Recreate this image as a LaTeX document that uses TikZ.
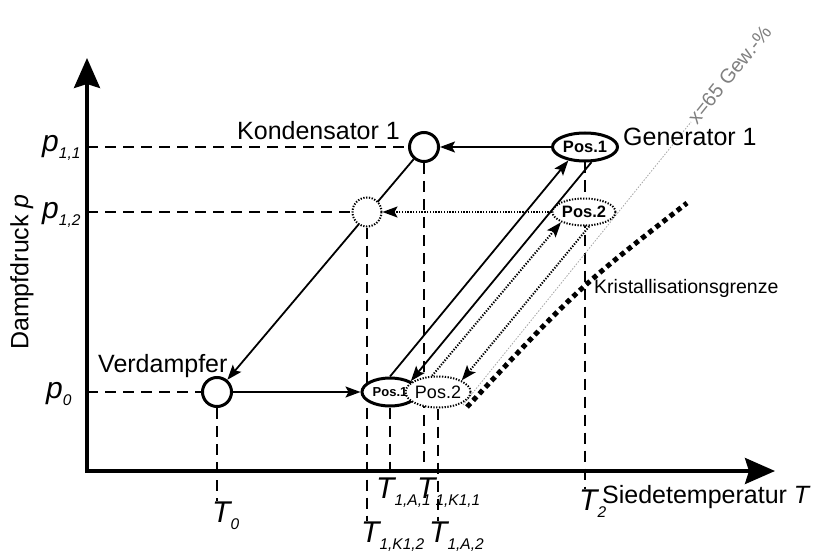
\documentclass[tikz,border=0pt]{standalone}
\usepackage{fontspec}
\setmainfont{Liberation Sans}
\usetikzlibrary{arrows.meta,shapes.geometric,backgrounds}

\newcommand{\sublbl}[2]{{\fontsize{30}{32}\selectfont\itshape #1\raisebox{-7pt}{\fontsize{15.5}{17}\selectfont #2}}}

\begin{document}
\begin{tikzpicture}[x=1pt,y=-1pt,
  every node/.style={inner sep=0pt},
  big/.style={font=\fontsize{25}{28}\selectfont},
  state/.style={circle, draw, line width=3pt, fill=white, minimum size=29pt},
  dstate/.style={state, line width=2pt, dash pattern=on 1.3pt off 1.5pt},
  posbox/.style={ellipse, draw, line width=3pt, fill=white, minimum width=63pt, minimum height=27pt, font=\bfseries\fontsize{16.5}{18}\selectfont},
  dposbox/.style={posbox, line width=2pt, dash pattern=on 1.3pt off 1.5pt},
  axis/.style={line width=3.5pt, {Stealth[length=30pt,width=26pt,inset=4pt]}-{Stealth[length=30pt,width=26pt,inset=4pt]}},
  conn/.style={line width=1.8pt, -{Stealth[length=15pt,width=11pt,inset=3pt]}},
  dconn/.style={conn, line width=2pt, dash pattern=on 1.3pt off 1.5pt},
  guide/.style={line width=1.8pt, dash pattern=on 11pt off 7pt}
]
\useasboundingbox (0,0) rectangle (821,556);

% axes
\coordinate (O) at (87,471);
\coordinate (ytop) at (87,58);
\coordinate (xend) at (775,471);
\draw[axis] (xend) -- (O) -- (ytop);

% states
\node[state] (k1) at (424,147) {};
\node[dstate] (dk) at (367,212) {};
\node[state] (v) at (217,392) {};
\node[posbox, minimum width=65pt, minimum height=28pt] (g1) at (585,147) {Pos.1};
\node[dposbox] (g2) at (584,212) {Pos.2};
\node[posbox, minimum width=56pt, minimum height=28pt, font=\bfseries\fontsize{13}{15}\selectfont] (b1) at (390,392) {Pos.1};
\node[dposbox, minimum width=61pt, minimum height=31pt, font=\fontsize{18}{20}\selectfont] (b2) at (438,392) {Pos.2};

% labels
\node[big, anchor=base west] (lk1) at (237,140) {Kondensator 1};
\node[big, anchor=base west] (lg1) at (623,146) {Generator 1};
\node[big, anchor=base west] (lv) at (98,372) {Verdampfer};
\node[font=\fontsize{19.5}{22}\selectfont, anchor=base west] (lkg) at (594,293) {Kristallisationsgrenze};
\node[big, anchor=base west] (lxt) at (602,503) {Siedetemperatur \textit{T}};
\node[big, rotate=90] (lyp) at (22,272) {Dampfdruck \textit{p}};

\node[anchor=base west] (p11) at (42,152) {\sublbl{p}{1,1}};
\node[anchor=base west] (p12) at (42,218) {\sublbl{p}{1,2}};
\node[anchor=base west] (p0) at (46,398) {\sublbl{p}{0}};

\node[anchor=base west] (t0) at (212,522) {\sublbl{T}{0}};
\node[anchor=base west] (ta1) at (376,498) {\sublbl{T}{1,A,1}};
\node[anchor=base west] (tk11) at (417,498) {\sublbl{T}{1,K1,1}};
\node[anchor=base west] (tk12) at (361,542) {\sublbl{T}{1,K1,2}};
\node[anchor=base west] (ta2) at (429,542) {\sublbl{T}{1,A,2}};
\node[anchor=base west] (t2) at (579,510) {\sublbl{T}{2}};

\begin{scope}[on background layer]
  % guide lines
  \draw[guide] (O |- k1) -- (k1);
  \draw[guide] (O |- dk) -- (dk);
  \draw[guide] (O |- v) -- (v);
  \draw[guide] (v) -- (v |- t0.north);
  \draw[guide] (dk) -- (dk |- tk12.north);
  \draw[guide] (b1) -- (b1 |- O);
  \draw[guide] (k1) -- ([yshift=4pt]k1 |- O);
  \draw[guide] (b2) -- (b2 |- ta2.north);
  \draw[guide] (g1) -- (g1 |- t2.north);
  % concentration line and crystallisation limit
  \draw[gray!70, line width=0.8pt, dash pattern=on 1.5pt off 1.5pt] (463,405) -- (691,122)
    node[anchor=west, rotate=51, text=gray, font=\fontsize{20}{22}\selectfont, inner sep=1pt] (lx) {x=65 Gew.-\%};
  \draw[line width=5pt, dash pattern=on 5pt off 4pt] (467,407) .. controls (578,288) .. (687,203);
  % cycle
  \draw[conn] (k1) -- (v);
\end{scope}

\draw[conn] (g1) -- (k1);
\draw[conn] (v) -- (b1);
\draw[conn] (b1.north) -- (g1.219);
\draw[conn] (g1.293) -- (b1.north east);
\draw[dconn] (g2) -- (dk);
\draw[dconn] (b2.110) -- (g2.south west);
\draw[dconn] (g2.290) -- (b2.north east);
\end{tikzpicture}
\end{document}
